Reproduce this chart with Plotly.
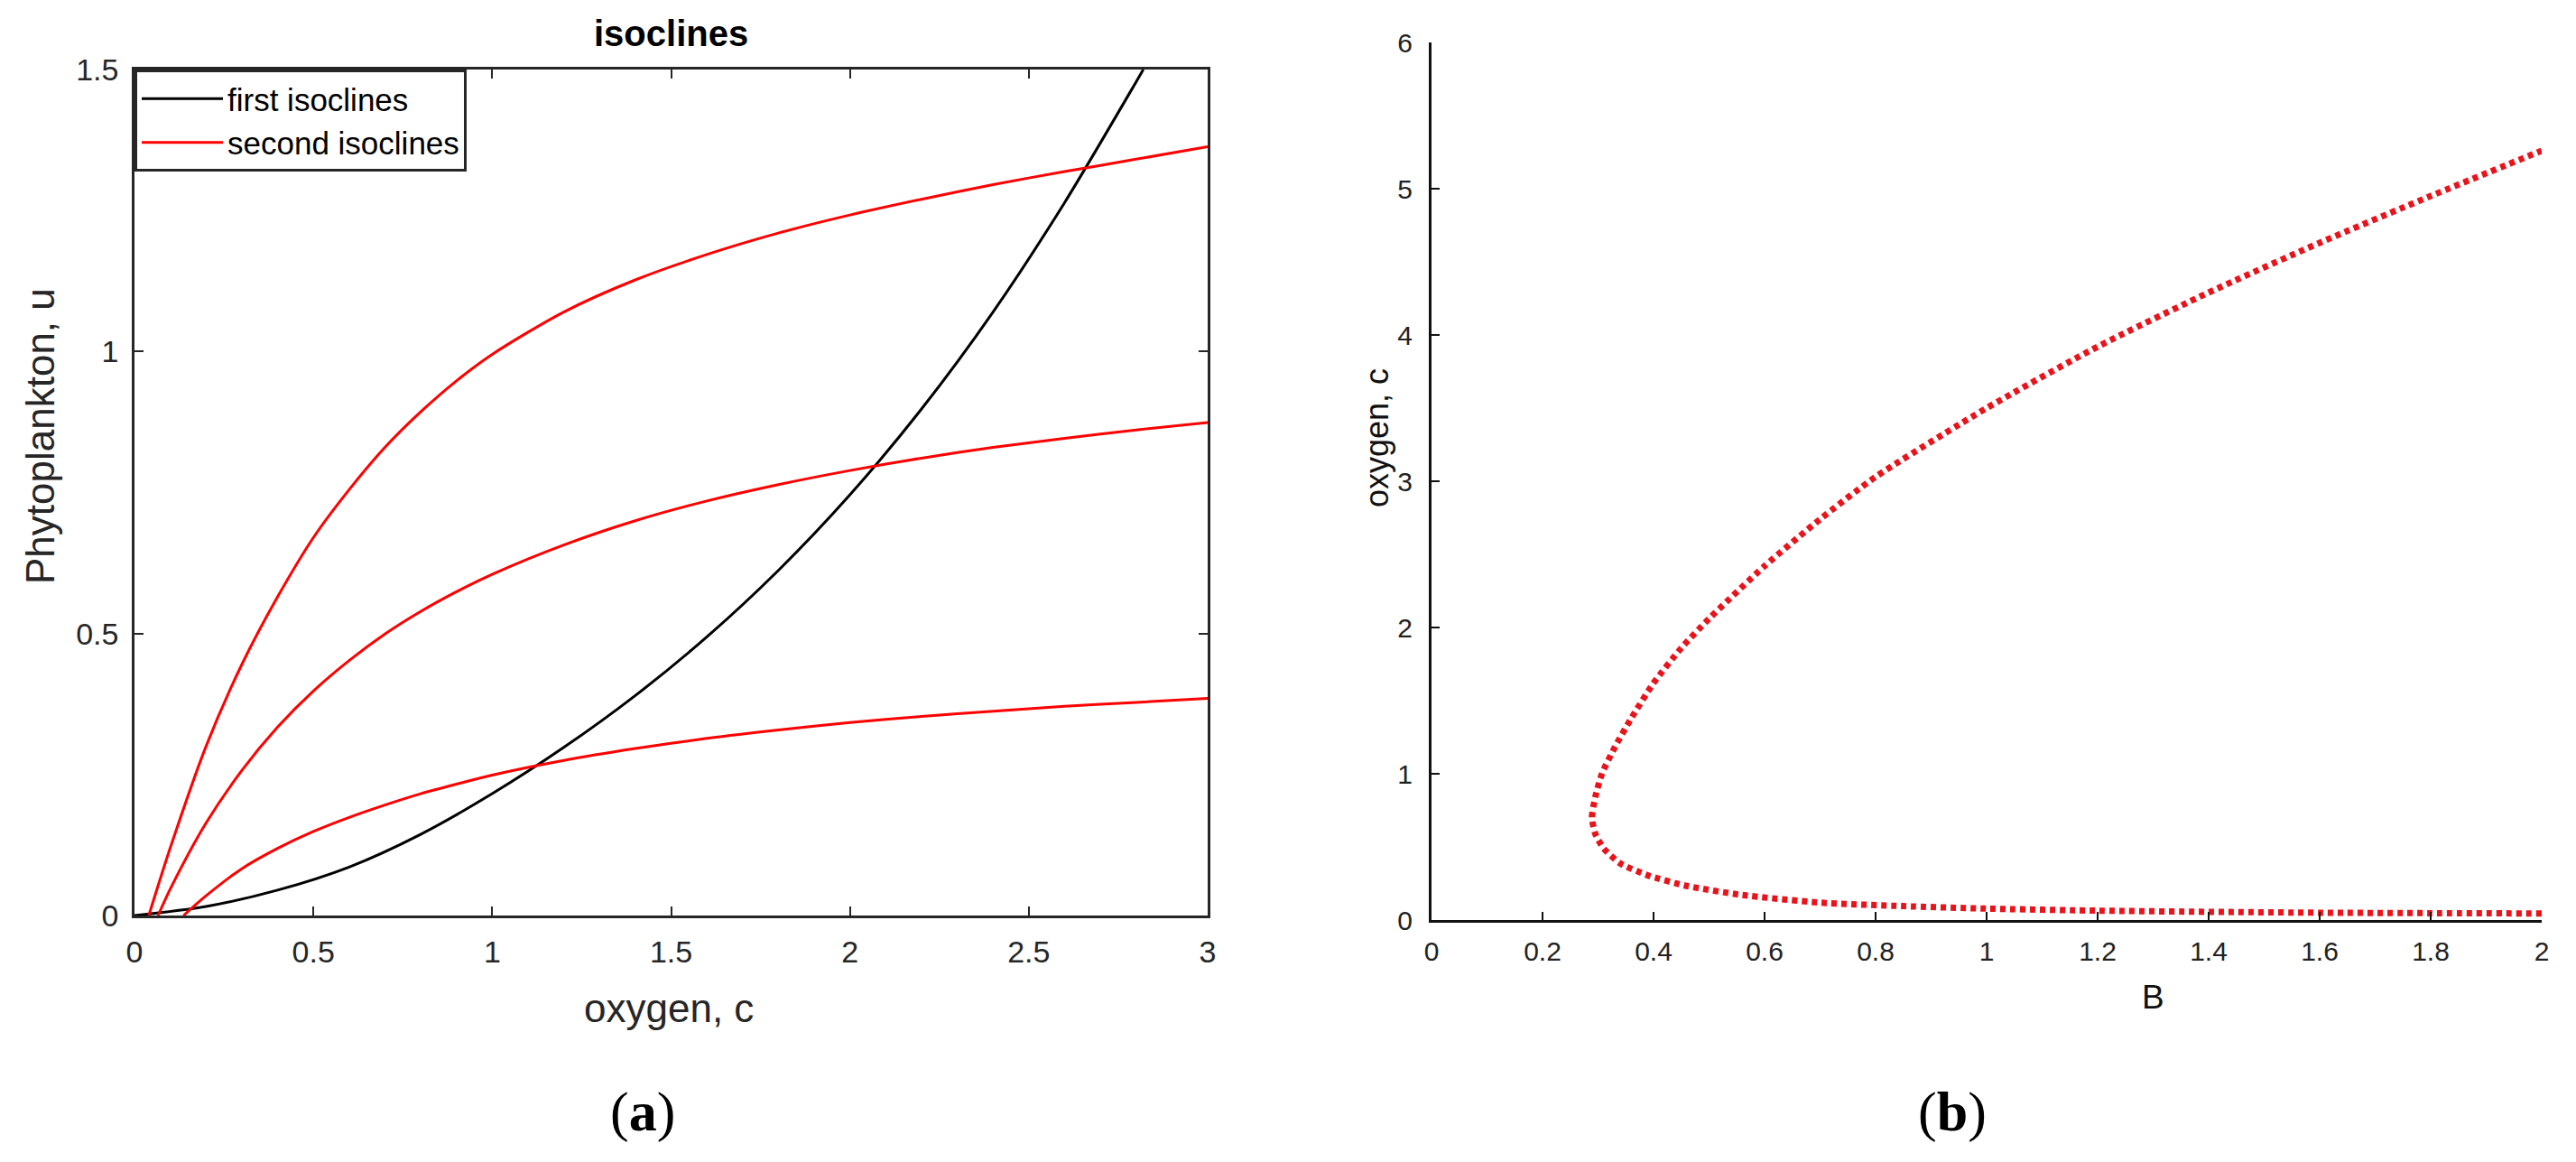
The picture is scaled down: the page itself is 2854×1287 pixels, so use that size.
import plotly.graph_objects as go

W, H = 2854, 1287
OFF = 8  # the browser page adds an 8px body margin

# ---- panel (a): isoclines ----
c_first = [0, 0.2, 0.4, 0.6, 0.8, 1.0, 1.2, 1.4, 1.6, 1.8, 2.0, 2.2, 2.4, 2.6, 2.8, 2.82]
u_first = [0, 0.016, 0.045, 0.086, 0.144, 0.216, 0.298, 0.39, 0.494, 0.612, 0.746, 0.898, 1.07, 1.264, 1.478, 1.5]

c_second_hi = [0.04, 0.1, 0.2, 0.3, 0.4, 0.5, 0.6, 0.7, 0.8, 0.9, 1.0, 1.2, 1.4, 1.6, 1.8, 2.0, 2.2, 2.4, 2.6, 2.8, 3.0]
u_second_hi = [0, 0.12, 0.30, 0.445, 0.565, 0.67, 0.755, 0.83, 0.893, 0.948, 0.995, 1.07, 1.127, 1.172, 1.21, 1.242, 1.27, 1.296, 1.319, 1.341, 1.363]

c_second_mid = [0.066, 0.1, 0.2, 0.3, 0.4, 0.5, 0.6, 0.7, 0.8, 0.9, 1.0, 1.2, 1.4, 1.6, 1.8, 2.0, 2.2, 2.4, 2.6, 2.8, 3.0]
u_second_mid = [0, 0.047, 0.164, 0.257, 0.334, 0.398, 0.452, 0.499, 0.539, 0.574, 0.605, 0.657, 0.70, 0.735, 0.764, 0.789, 0.811, 0.83, 0.846, 0.861, 0.874]

c_second_lo = [0.137, 0.2, 0.3, 0.4, 0.5, 0.6, 0.7, 0.8, 0.9, 1.0, 1.2, 1.4, 1.6, 1.8, 2.0, 2.2, 2.4, 2.6, 2.8, 3.0]
u_second_lo = [0, 0.035, 0.083, 0.119, 0.149, 0.174, 0.196, 0.216, 0.233, 0.249, 0.275, 0.296, 0.314, 0.329, 0.342, 0.353, 0.362, 0.371, 0.378, 0.385]

a_xticks = [0, 0.5, 1, 1.5, 2, 2.5, 3]
a_yticks = [0, 0.5, 1, 1.5]

# ---- panel (b): oxygen vs B (fold) ----
b_B = [2.0, 1.8, 1.6, 1.4, 1.2, 1.0, 0.85, 0.7, 0.56, 0.46, 0.39, 0.34, 0.31, 0.295, 0.289,
       0.295, 0.307, 0.33, 0.36, 0.4, 0.45, 0.5, 0.6, 0.7, 0.8, 1.0, 1.2, 1.4, 1.6, 1.8, 2.0]
b_c = [0.045, 0.047, 0.05, 0.056, 0.064, 0.078, 0.095, 0.119, 0.171, 0.233, 0.305, 0.387, 0.49, 0.59, 0.7,
       0.84, 1.0, 1.18, 1.38, 1.62, 1.86, 2.06, 2.42, 2.74, 3.03, 3.5, 3.92, 4.29, 4.63, 4.95, 5.26]

b_xticks = [0, 0.2, 0.4, 0.6, 0.8, 1, 1.2, 1.4, 1.6, 1.8, 2]
b_yticks = [0, 1, 2, 3, 4, 5, 6]

SANS = "Liberation Sans, Arial, Helvetica, sans-serif"
SERIF = "Liberation Serif, Times New Roman, serif"
RED = "#ff0000"

fig = go.Figure()

fig.add_trace(go.Scatter(x=c_first, y=u_first, mode="lines", name="first isoclines",
                         line=dict(color="#000000", width=3, shape="spline", smoothing=0.8),
                         xaxis="x", yaxis="y"))
for i, (cx, uy) in enumerate([(c_second_hi, u_second_hi),
                              (c_second_mid, u_second_mid),
                              (c_second_lo, u_second_lo)]):
    fig.add_trace(go.Scatter(x=cx, y=uy, mode="lines", name="second isoclines",
                             line=dict(color=RED, width=3, shape="spline", smoothing=0.8),
                             showlegend=(i == 0), xaxis="x", yaxis="y"))

fig.add_trace(go.Scatter(x=b_B, y=b_c, mode="lines", showlegend=False,
                         line=dict(color="#e8141c", width=7, dash="6px,5px",
                                   shape="spline", smoothing=0.6),
                         xaxis="x2", yaxis="y2"))


def px(v):
    return (v - OFF) / W


def py(v):
    return 1 - (v - OFF) / H


frame = "#262626"
dark = "#111111"
fig.update_layout(
    width=W, height=H,
    paper_bgcolor="white", plot_bgcolor="white",
    margin=dict(l=0, r=0, t=0, b=0, pad=0, autoexpand=False),
    font=dict(family=SANS, color=frame),
    showlegend=True,
    xaxis=dict(domain=[px(149), px(1338)], range=[0, 3], tickvals=a_xticks, automargin=False,
               showgrid=False, zeroline=False, showline=True, linecolor=frame, linewidth=2.5,
               mirror="ticks", ticks="inside", ticklen=10, tickwidth=2, tickcolor=frame,
               tickfont=dict(size=34, color=frame, family=SANS), ticklabelstandoff=8, anchor="y"),
    yaxis=dict(domain=[py(1014), py(77)], range=[0, 1.5], tickvals=a_yticks, automargin=False,
               showgrid=False, zeroline=False, showline=True, linecolor=frame, linewidth=2.5,
               mirror="ticks", ticks="inside", ticklen=10, tickwidth=2, tickcolor=frame,
               tickfont=dict(size=34, color=frame, family=SANS), ticklabelstandoff=8, anchor="x"),
    xaxis2=dict(domain=[px(1586), px(2816)], range=[0, 2], tickvals=b_xticks, automargin=False,
                showgrid=False, zeroline=False, showline=True, linecolor=dark, linewidth=3,
                ticks="inside", ticklen=9, tickwidth=2, tickcolor=dark,
                tickfont=dict(size=30, color="#222222", family=SANS), ticklabelstandoff=6, anchor="y2"),
    yaxis2=dict(domain=[py(1019), py(47)], range=[0, 6], tickvals=b_yticks, automargin=False,
                showgrid=False, zeroline=False, showline=True, linecolor=dark, linewidth=3,
                ticks="inside", ticklen=9, tickwidth=2, tickcolor=dark,
                tickfont=dict(size=30, color="#222222", family=SANS), ticklabelstandoff=12, anchor="x2"),
    legend=dict(x=px(149), y=py(77), xanchor="left", yanchor="top",
                bgcolor="white", bordercolor=frame, borderwidth=3,
                font=dict(size=35, color="#000000", family=SANS),
                tracegroupgap=0, itemwidth=90),
)

annotations = [
    dict(text="<b>isoclines</b>", x=px(743), y=py(37), font=dict(size=40, color="#000000")),
    dict(text="oxygen, c", x=px(741), y=py(1116), font=dict(size=44, color=frame)),
    dict(text="Phytoplankton, u", x=px(44), y=py(483), textangle=-90,
         font=dict(size=44, color=frame)),
    dict(text="(<b>a</b>)", x=px(712), y=py(1231), font=dict(size=62, color="#000000", family=SERIF)),
    dict(text="B", x=px(2385), y=py(1104), font=dict(size=37, color=dark)),
    dict(text="oxygen, c", x=px(1525), y=py(485), textangle=-90,
         font=dict(size=36, color=dark)),
    dict(text="(<b>b</b>)", x=px(2163), y=py(1231), font=dict(size=62, color="#000000", family=SERIF)),
]
for a in annotations:
    a.update(xref="paper", yref="paper", showarrow=False, xanchor="center", yanchor="middle")
fig.update_layout(annotations=annotations)

fig.write_html("out.html")
